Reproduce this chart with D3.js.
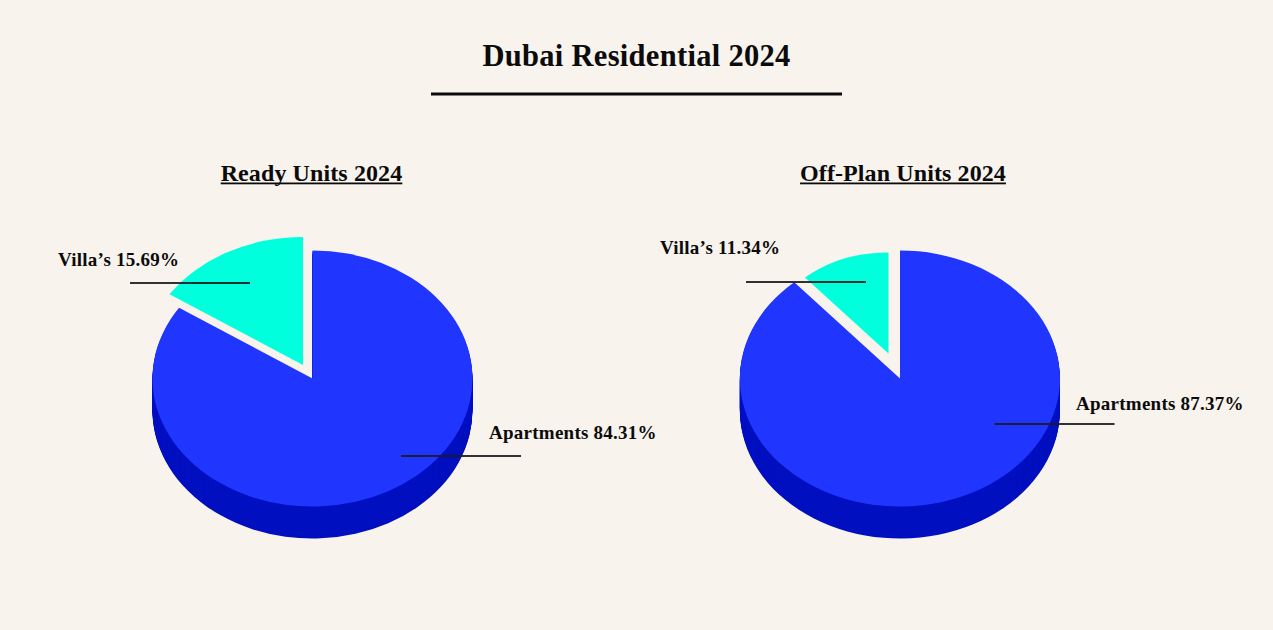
<!DOCTYPE html>
<html><head><meta charset="utf-8">
<script src="https://cdn.jsdelivr.net/npm/d3@7"></script>
<style>html,body{margin:0;padding:0;background:#f8f3ed}svg{display:block}
text{font-family:"Liberation Serif",serif;font-weight:700;fill:#0b0b0b}</style>
</head><body><svg id="c" width="1273" height="630"></svg>
<script>
const chartTitle = "Dubai Residential 2024";
const pieTitles = ["Ready Units 2024", "Off-Plan Units 2024"];
const categories = ["Apartments", "Villa’s"];
const readyValues = [84.31, 15.69];
const offPlanValues = [87.37, 11.34];

const BLUE = "#2036ff", DARK = "#0010c0", CYAN = "#00ffdd", INK = "#1c1c1c";
const svg = d3.select("#c");
svg.append("rect").attr("width",1273).attr("height",630).attr("fill","#f8f3ed");

svg.append("text").attr("x",636.5).attr("y",65.5).attr("text-anchor","middle")
  .attr("font-size",30.5).attr("letter-spacing",0.3).text(chartTitle);
svg.append("rect").attr("x",431).attr("y",92.5).attr("width",411).attr("height",3).attr("fill","#0b0b0b");

const RX = 160, RY = 128, DEPTH = 32;
const arcGen = d3.arc().innerRadius(0).outerRadius(1);
const pieGen = d3.pie().sort(null).value(d => d);

const layouts = [
  {values: readyValues, cx: 312.5, cy: 378.5, title: pieTitles[0], titleX: 311.5,
   villaDx: -9.5, villaDy: -13.5, villaScale: 1.0,
   aptLine:[88.5,77.5], aptText:[176.5,60.5], villaLine:[-182.5,-95.5], villaText:[-254.5,-113]},
  {values: offPlanValues, cx: 900, cy: 378.5, title: pieTitles[1], titleX: 903,
   villaDx: -11.5, villaDy: -25, villaScale: 0.79,
   aptLine:[94.5,45.5], aptText:[176,31], villaLine:[-154,-96.5], villaText:[-240,-125]}
];

layouts.forEach(L => {
  const g = svg.append("g");
  const slices = pieGen(L.values);
  const t = g.append("text").attr("x",L.titleX).attr("y",180.5).attr("text-anchor","middle")
    .attr("font-size",24).attr("letter-spacing",0.1).text(L.title);
  const w = t.node().getComputedTextLength();
  g.append("rect").attr("x",L.titleX-w/2).attr("y",182.5).attr("width",w).attr("height",1.8).attr("fill","#0b0b0b");

  // extruded side of the apartments slice
  d3.range(DEPTH, 0, -1).forEach(s => {
    g.append("path").attr("d", arcGen(slices[0]))
      .attr("transform",`translate(${L.cx},${L.cy+s}) scale(${RX},${RY})`)
      .attr("fill",DARK);
  });
  g.append("path").attr("d", arcGen(slices[0]))
    .attr("transform",`translate(${L.cx},${L.cy}) scale(${RX},${RY})`)
    .attr("fill",BLUE);
  g.append("path").attr("d", arcGen(slices[1]))
    .attr("transform",`translate(${L.cx+L.villaDx},${L.cy+L.villaDy}) scale(${RX*L.villaScale},${RY*L.villaScale})`)
    .attr("fill",CYAN);

  const label = (i, line, txt) => {
    g.append("rect").attr("x",L.cx+line[0]).attr("y",L.cy+line[1]-0.9).attr("width",120).attr("height",1.8).attr("fill",INK);
    g.append("text").attr("x",L.cx+txt[0]).attr("y",L.cy+txt[1]).attr("font-size",19).attr("letter-spacing",0.25)
      .text(`${categories[i]} ${d3.format(".2f")(L.values[i])}%`);
  };
  label(0, L.aptLine, L.aptText);
  label(1, L.villaLine, L.villaText);
});
</script></body></html>
